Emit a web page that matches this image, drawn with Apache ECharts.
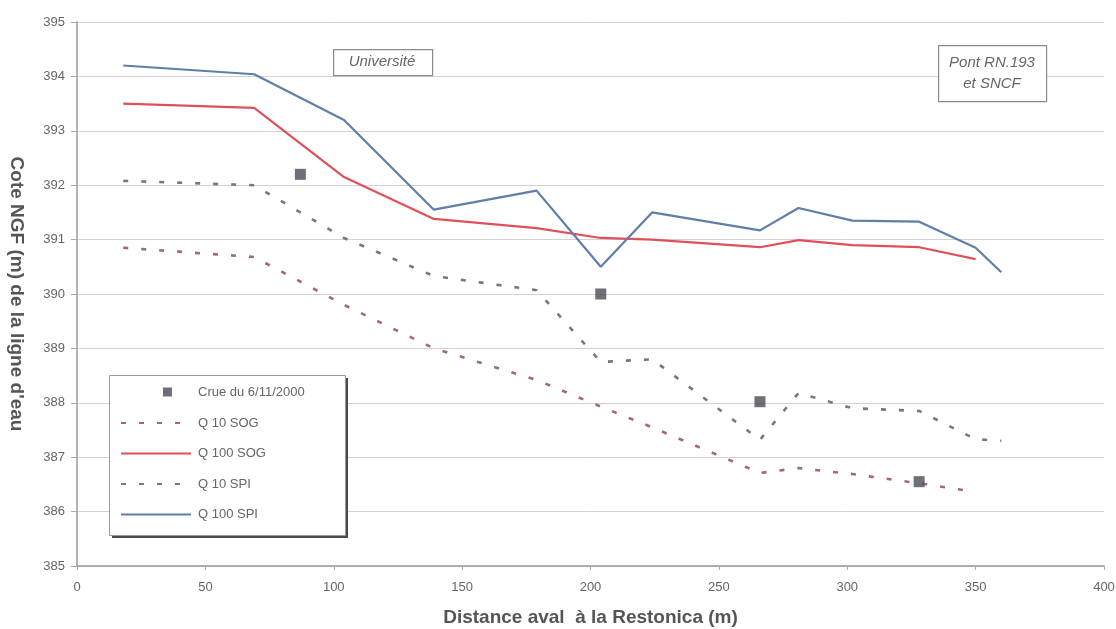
<!DOCTYPE html>
<html>
<head>
<meta charset="utf-8">
<title>Ligne d'eau - Restonica</title>
<script src="https://cdn.jsdelivr.net/npm/echarts@6/dist/echarts.min.js"></script>
<style>
  html, body { margin: 0; padding: 0; background: #ffffff; }
  #chart { width: 1116px; height: 629px; }
</style>
</head>
<body>
<div id="chart"></div>
<script>
// Profile stations (distance downstream, m)
const distances = [18, 69, 104, 139, 179, 204, 224, 266, 281, 302, 328, 350, 360];

// Water levels (m NGF) per scenario
const q100Spi = [394.20, 394.04, 393.20, 391.55, 391.90, 390.50, 391.50, 391.17, 391.58, 391.35, 391.33, 390.85, 390.40];
const q10Spi  = [392.08, 392.00, 391.03, 390.33, 390.07, 388.75, 388.80, 387.32, 388.18, 387.90, 387.85, 387.33, 387.30];
const q100Sog = [393.50, 393.42, 392.15, 391.38, 391.21, 391.03, 391.00, 390.86, 390.99, 390.90, 390.86, 390.64];
const q10Sog  = [390.85, 390.68, 389.80, 389.00, 388.42, 387.93, 387.55, 386.71, 386.80, 386.69, 386.52, 386.36];

// Observed flood marks, 6/11/2000
const crueX = [87, 204, 266, 328];
const crueY = [392.20, 390.00, 388.02, 386.55];

const xTicks = { min: 0, max: 400, step: 50 };
const yTicks = { min: 385, max: 395, step: 1 };

const pairs = (xs, ys) => ys.map((y, i) => [xs[i], y]);

const chart = echarts.init(document.getElementById('chart'), null, { renderer: 'canvas' });

const dotted = [5, 13];
const labelFont = 'Liberation Sans, Arial, sans-serif';
const hideSymbol = { opacity: 0 };

// legend frame geometry
const legendBox = { x: 109, y: 375, w: 236, h: 160 };

chart.setOption({
  animation: false,
  backgroundColor: '#ffffff',
  grid: { left: 77, right: 12, top: 22, bottom: 63, containLabel: false, outerBoundsMode: 'none' },
  xAxis: {
    type: 'value',
    min: xTicks.min, max: xTicks.max, interval: xTicks.step,
    name: 'Distance aval  à la Restonica (m)',
    nameLocation: 'middle',
    nameGap: 42,
    nameTextStyle: { fontFamily: labelFont, fontWeight: 'bold', fontSize: 19, color: '#555' },
    axisLine: { show: true, lineStyle: { color: '#9a9a9a', width: 1.5 } },
    axisTick: { show: true, length: 4, lineStyle: { color: '#aaa' } },
    splitLine: { show: false },
    axisLabel: { fontFamily: labelFont, fontSize: 13, color: '#666', margin: 15 }
  },
  yAxis: {
    type: 'value',
    min: yTicks.min, max: yTicks.max, interval: yTicks.step,
    name: "Cote NGF (m) de la ligne d'eau",
    nameLocation: 'middle',
    nameRotate: -90,
    nameGap: 51,
    nameTextStyle: { fontFamily: labelFont, fontWeight: 'bold', fontSize: 19, color: '#555' },
    axisLine: { show: true, lineStyle: { color: '#9a9a9a', width: 1.5 } },
    axisTick: { show: true, length: 6, lineStyle: { color: '#aaa' } },
    splitLine: { show: true, lineStyle: { color: '#d2d2d2', width: 1 } },
    axisLabel: { fontFamily: labelFont, fontSize: 13, color: '#666', margin: 12 }
  },
  legend: {
    orient: 'vertical',
    left: legendBox.x, top: legendBox.y,
    padding: [10, 0, 10, 11],
    itemWidth: 70, itemHeight: 14, itemGap: 17.5,
    z: 10,
    textStyle: { fontFamily: labelFont, fontSize: 13, color: '#666', padding: [0, 0, 0, 2] },
    data: [
      { name: 'Crue du 6/11/2000', icon: 'path://M0,0h0.01v0.01h-0.01z M70,14h0.01v0.01h-0.01z M42,2.5h9v9h-9z' },
      { name: 'Q 10 SOG', itemStyle: hideSymbol },
      { name: 'Q 100 SOG', itemStyle: hideSymbol },
      { name: 'Q 10 SPI', itemStyle: hideSymbol },
      { name: 'Q 100 SPI', itemStyle: hideSymbol }
    ]
  },
  graphic: [
    // legend frame with drop shadow
    {
      type: 'rect', left: legendBox.x + 3, top: legendBox.y + 3, z: 5,
      shape: { width: legendBox.w, height: legendBox.h },
      style: { fill: '#4a4a4a' }
    },
    {
      type: 'rect', left: legendBox.x, top: legendBox.y, z: 6,
      shape: { width: legendBox.w, height: legendBox.h },
      style: { fill: '#ffffff', stroke: '#9a9a9a', lineWidth: 1 }
    },
    // site annotations
    {
      type: 'rect', left: 333, top: 49, z: 10,
      shape: { width: 99, height: 26 },
      style: { fill: '#fff', stroke: '#8a8a8a', lineWidth: 1.2 }
    },
    {
      type: 'text', x: 382, y: 54, z: 11,
      style: { text: 'Université', align: 'center', verticalAlign: 'top',
               font: 'italic 15px Liberation Sans, Arial, sans-serif', fill: '#666' }
    },
    {
      type: 'rect', left: 938, top: 45, z: 10,
      shape: { width: 108, height: 56 },
      style: { fill: '#fff', stroke: '#8a8a8a', lineWidth: 1.2 }
    },
    {
      type: 'text', x: 992, y: 52, z: 11,
      style: {
        text: 'Pont RN.193\net SNCF', align: 'center', verticalAlign: 'top',
        font: 'italic 15px Liberation Sans, Arial, sans-serif', fill: '#666', lineHeight: 21
      }
    }
  ],
  series: [
    {
      name: 'Crue du 6/11/2000', type: 'scatter',
      symbol: 'rect', symbolSize: 11,
      itemStyle: { color: '#4a4c58' },
      data: pairs(crueX, crueY), z: 5
    },
    {
      name: 'Q 10 SOG', type: 'line', symbol: 'none',
      lineStyle: { color: '#a06a70', width: 2.6, type: dotted },
      itemStyle: { color: '#a06a70' },
      data: pairs(distances, q10Sog)
    },
    {
      name: 'Q 100 SOG', type: 'line', symbol: 'none',
      lineStyle: { color: '#e0505a', width: 2.2 },
      itemStyle: { color: '#e0505a' },
      data: pairs(distances, q100Sog)
    },
    {
      name: 'Q 10 SPI', type: 'line', symbol: 'none',
      lineStyle: { color: '#737b7a', width: 2.6, type: dotted },
      itemStyle: { color: '#737b7a' },
      data: pairs(distances, q10Spi)
    },
    {
      name: 'Q 100 SPI', type: 'line', symbol: 'none',
      lineStyle: { color: '#5f7ea8', width: 2.2 },
      itemStyle: { color: '#5f7ea8' },
      data: pairs(distances, q100Spi)
    }
  ]
});
</script>
</body>
</html>
